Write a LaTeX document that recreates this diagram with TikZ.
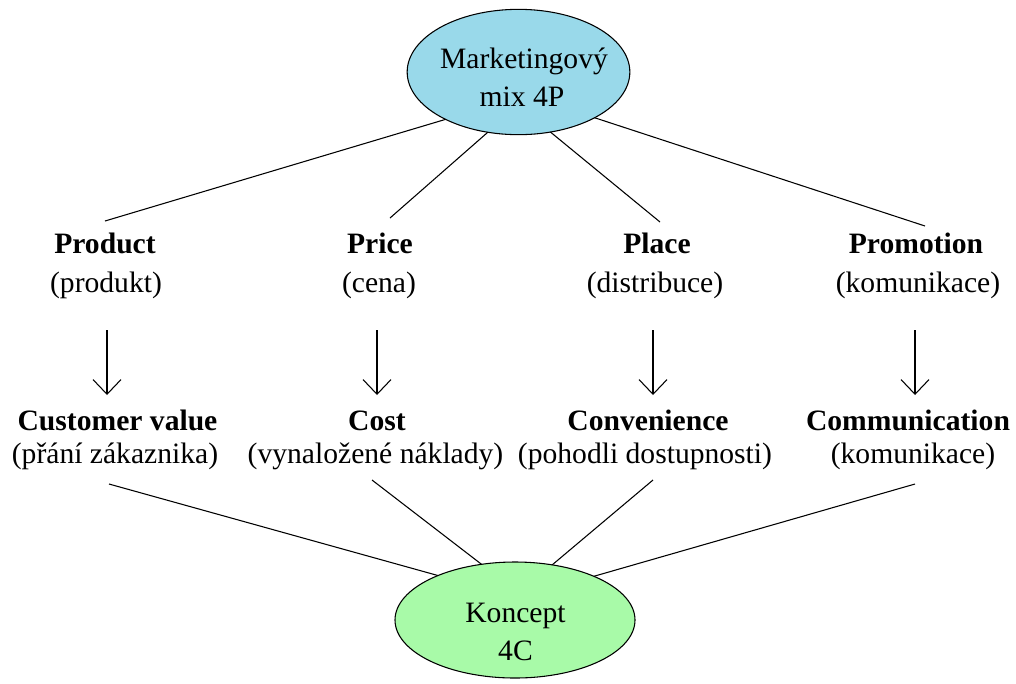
\documentclass[tikz,border=0pt]{standalone}
\usepackage{fontspec}
\setmainfont{Liberation Serif}
\usetikzlibrary{arrows.meta,shapes.geometric}
\definecolor{topblue}{RGB}{153,217,234}
\definecolor{botgreen}{RGB}{168,250,168}
\tikzset{
  every node/.style={inner sep=0pt,outer sep=0pt},
  lbl/.style={anchor=base,font=\fontsize{22.2}{26}\selectfont},
  head/.style={lbl,font=\fontsize{22.2}{26}\selectfont\bfseries},
  oval/.style={ellipse,draw=black,line width=0.8pt},
  link/.style={draw=black,line width=0.8pt},
  downarrow/.style={draw=black,line width=0.8pt,-{Straight Barb[length=11pt,width=21pt,line width=0.8pt]}}
}
\begin{document}
\begin{tikzpicture}[x=0.75pt,y=-0.75pt]
\useasboundingbox (0,0) rectangle (1016,683);
% ellipses
\node[oval,fill=topblue,minimum width=167pt,minimum height=94pt] (mix) at (518.5,72) {};
\node[lbl] (mixa) at (524,68) {Marketingový};
\node[lbl] (mixb) at (522,106) {mix 4P};
\node[oval,fill=botgreen,minimum width=180pt,minimum height=87pt] (kon) at (515,620) {};
\node[lbl] (kona) at (515.5,622) {Koncept};
\node[lbl] (konb) at (515.5,660) {4C};
% 4P
\node[head] (p1) at (105,253) {Product};
\node[lbl]  (p2) at (106,292) {(produkt)};
\node[head] (q1) at (380,253) {Price};
\node[lbl]  (q2) at (379,292) {(cena)};
\node[head] (r1) at (657,253) {Place};
\node[lbl]  (r2) at (655,292) {(distribuce)};
\node[head] (s1) at (916,253) {Promotion};
\node[lbl]  (s2) at (918,292) {(komunikace)};
% 4C
\node[head] (c1) at (117.5,430) {Customer value};
\node[lbl]  (c2) at (115,463) {(přání zákaznika)};
\node[head] (d1) at (377,430) {Cost};
\node[lbl]  (d2) at (375.5,463) {(vynaložené náklady)};
\node[head] (e1) at (648,430) {Convenience};
\node[lbl]  (e2) at (645,463) {(pohodli dostupnosti)};
\node[head] (f1) at (908,430) {Communication};
\node[lbl]  (f2) at (913,463) {(komunikace)};
% free ends of the connectors
\coordinate (pt) at (105,221);
\coordinate (qt) at (390,218);
\coordinate (rt) at (660,222);
\coordinate (st) at (925,226);
\coordinate (pa) at (107,330);
\coordinate (pb) at (107,395);
\coordinate (qa) at (377,330);
\coordinate (qb) at (377,395);
\coordinate (ra) at (653,330);
\coordinate (rb) at (653,395);
\coordinate (sa) at (915,330);
\coordinate (sb) at (915,395);
\coordinate (cb) at (109,484);
\coordinate (db) at (372,480);
\coordinate (eb) at (653,480);
\coordinate (fb) at (915,484);
% top links
\draw[link] (mix.213.7) -- (pt);
\draw[link] (mix.243.4) -- (qt);
\draw[link] (mix.298.8) -- (rt);
\draw[link] (mix.329.4) -- (st);
% arrows
\draw[downarrow] (pa) -- (pb);
\draw[downarrow] (qa) -- (qb);
\draw[downarrow] (ra) -- (rb);
\draw[downarrow] (sa) -- (sb);
% bottom links
\draw[link] (cb) -- (kon.150.6);
\draw[link] (db) -- (kon.121.5);
\draw[link] (eb) -- (kon.56.1);
\draw[link] (fb) -- (kon.29.4);
\end{tikzpicture}
\end{document}
